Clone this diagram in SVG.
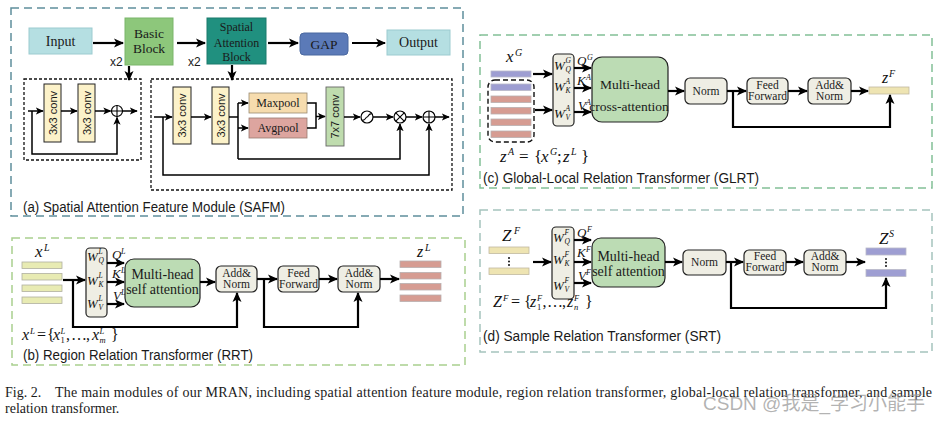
<svg xmlns="http://www.w3.org/2000/svg" width="941" height="423" viewBox="0 0 941 423">
<defs>
<marker id="ah" viewBox="0 0 10 10" refX="9" refY="5" markerWidth="10" markerHeight="10" markerUnits="userSpaceOnUse" orient="auto"><path d="M0,0.5 L10,5 L0,9.5 L2.5,5 z" fill="#000"/></marker>
<marker id="ahs" viewBox="0 0 10 10" refX="9" refY="5" markerWidth="8" markerHeight="8" markerUnits="userSpaceOnUse" orient="auto"><path d="M0,0.5 L10,5 L0,9.5 L2.5,5 z" fill="#000"/></marker>
</defs>
<style>
.serif{font-family:"Liberation Serif","Times New Roman",serif;fill:#1a1a1a;}
.sans{font-family:"Liberation Sans",Arial,sans-serif;fill:#1a1a1a;}
.mi{font-family:"Liberation Serif","Times New Roman",serif;font-style:italic;fill:#111;}
.up{font-style:normal;}
.la{fill:none;stroke:#000;stroke-width:2.2;marker-end:url(#ah);}
.ln{fill:none;stroke:#000;stroke-width:2.2;}
.sa{fill:none;stroke:#000;stroke-width:1.5;marker-end:url(#ahs);}
.sl{fill:none;stroke:#000;stroke-width:1.5;}
.tb{fill:#efeee4;stroke:#222;stroke-width:1.2;}
.att{fill:#bcdcb4;stroke:#222;stroke-width:1.2;}
.conv{fill:#fcf2c9;stroke:#222;stroke-width:1;}
.op{fill:#fff;stroke:#000;stroke-width:1.2;}
.inner{fill:none;stroke:#111;stroke-width:1.3;stroke-dasharray:3,2;}
.frame{fill:none;stroke-width:1.5;stroke-dasharray:8,5;}
.yb{fill:#e8ebb3;stroke:#b0b0a0;stroke-width:0.8;}
.pb{fill:#d69c92;stroke:#b8b0b0;stroke-width:0.8;}
.vb{fill:#9e9ed2;stroke:#b8b8c8;stroke-width:0.8;}
.fb{fill:#eee4b2;stroke:#c0b8a0;stroke-width:0.8;}
</style>

<!-- frames -->
<g id="frame-safm"><rect class="frame" x="11" y="8" width="452" height="208" stroke="#5f8e9c"/>
<text class="sans" x="23" y="212" font-size="14" textLength="262" lengthAdjust="spacingAndGlyphs">(a) Spatial Attention Feature Module (SAFM)</text></g>
<g id="frame-glrt"><rect class="frame" x="480" y="35" width="452" height="153" stroke="#82c097"/>
<text class="sans" x="483" y="183" font-size="14" textLength="276" lengthAdjust="spacingAndGlyphs">(c) Global-Local Relation Transformer (GLRT)</text></g>
<g id="frame-rrt"><rect class="frame" x="12" y="238" width="453" height="127" stroke="#a9d08f"/>
<text class="sans" x="23" y="360" font-size="14" textLength="230" lengthAdjust="spacingAndGlyphs">(b) Region Relation Transformer (RRT)</text></g>
<g id="frame-srt"><rect class="frame" x="480" y="210" width="452" height="142" stroke="#a5c4bd"/>
<text class="sans" x="483" y="341" font-size="14" textLength="238" lengthAdjust="spacingAndGlyphs">(d) Sample Relation Transformer (SRT)</text></g>

<!-- SAFM nodes -->
<g id="input"><rect x="29" y="28" width="63" height="26" fill="#b5dfe2" stroke="#9ccbd0"/><text class="serif" x="60.5" y="46" font-size="14" text-anchor="middle">Input</text></g>
<g id="basic-block"><rect x="125" y="18" width="48" height="47" fill="#8dc77b" stroke="#7ab56a"/><text class="serif" x="149" y="38" font-size="13.5" text-anchor="middle">Basic</text><text class="serif" x="149" y="53" font-size="13.5" text-anchor="middle">Block</text></g>
<text class="sans" x="110" y="66" font-size="12">x2</text>
<g id="spatial-block"><rect x="207" y="18" width="59" height="46" fill="#20907f" stroke="#1a7a6c"/><text class="serif" x="236.5" y="31" font-size="12" text-anchor="middle">Spatial</text><text class="serif" x="236.5" y="47" font-size="12" text-anchor="middle">Attention</text><text class="serif" x="236.5" y="61" font-size="12" text-anchor="middle">Block</text></g>
<text class="sans" x="188" y="66" font-size="12">x2</text>
<g id="gap"><rect x="300" y="33" width="48" height="22" rx="4" fill="#5b7ab8" stroke="#4a68a0"/><text class="serif" x="324" y="49" font-size="13.5" text-anchor="middle">GAP</text></g>
<g id="output"><rect x="387" y="30" width="63" height="25" fill="#b5dfe2" stroke="#9ccbd0"/><text class="serif" x="418.5" y="47" font-size="14" text-anchor="middle">Output</text></g>

<g id="basic-detail"><rect class="inner" x="24" y="79" width="117" height="81"/></g>
<g id="conv-a1"><rect class="conv" x="44" y="84" width="17" height="58"/><text class="sans" font-size="11" text-anchor="middle" transform="translate(52.5,113) rotate(-90)" x="0" y="4">3x3 conv</text></g>
<g id="conv-a2"><rect class="conv" x="78" y="84" width="17" height="58"/><text class="sans" font-size="11" text-anchor="middle" transform="translate(86.5,113) rotate(-90)" x="0" y="4">3x3 conv</text></g>
<g id="plus-a"><circle class="op" cx="117" cy="111" r="5.5"/><path d="M111.5,111 H122.5 M117,105.5 V116.5" stroke="#000" stroke-width="1.1"/></g>

<g id="spatial-detail"><rect class="inner" x="151" y="79" width="301" height="111"/></g>
<g id="conv-b1"><rect class="conv" x="173" y="87" width="18" height="57"/><text class="sans" font-size="11" text-anchor="middle" transform="translate(182,115.5) rotate(-90)" x="0" y="4">3x3 conv</text></g>
<g id="conv-b2"><rect class="conv" x="212" y="87" width="17" height="57"/><text class="sans" font-size="11" text-anchor="middle" transform="translate(220.5,115.5) rotate(-90)" x="0" y="4">3x3 conv</text></g>
<g id="maxpool"><rect x="249" y="93" width="58" height="20" fill="#f6dcae" stroke="#9a8a70" stroke-width="0.8"/><text class="serif" x="278" y="107" font-size="12" text-anchor="middle">Maxpool</text></g>
<g id="avgpool"><rect x="249" y="118" width="58" height="20" fill="#dda59f" stroke="#9a7a70" stroke-width="0.8"/><text class="serif" x="278" y="132" font-size="12" text-anchor="middle">Avgpool</text></g>
<g id="conv7"><rect x="326" y="87" width="18" height="59" fill="#bfdcae" stroke="#666" stroke-width="0.9"/><text class="sans" font-size="11" text-anchor="middle" transform="translate(335,116.5) rotate(-90)" x="0" y="4">7x7 conv</text></g>
<g id="sigmoid"><circle class="op" cx="367" cy="117" r="6"/><path d="M362.5,120 C365.5,121 365.5,117 367,117 C368.5,117 368.5,113 371.5,114" fill="none" stroke="#000" stroke-width="1.1"/></g>
<g id="mult"><circle class="op" cx="400" cy="117" r="6"/><path d="M395.8,112.8 L404.2,121.2 M404.2,112.8 L395.8,121.2" stroke="#000" stroke-width="1.1"/></g>
<g id="plus-b"><circle class="op" cx="429" cy="117" r="6"/><path d="M423,117 H435 M429,111 V123" stroke="#000" stroke-width="1.1"/></g>

<!-- GLRT nodes -->
<g id="glrt-xg"><text class="mi" x="506" y="62" font-size="17">x</text><text class="mi" x="515" y="56" font-size="10">G</text><rect class="vb" x="491" y="71" width="40" height="6"/></g>
<g id="glrt-za"><rect x="488" y="80" width="46" height="62" rx="7" fill="none" stroke="#111" stroke-width="1.4" stroke-dasharray="5,3"/>
<rect class="vb" x="491" y="84" width="40" height="6.5"/><rect class="pb" x="491" y="96" width="40" height="6.5"/><rect class="pb" x="491" y="107.5" width="40" height="6.5"/><rect class="pb" x="491" y="119" width="40" height="6.5"/><rect class="pb" x="491" y="131" width="40" height="6.5"/>
<text class="mi" font-size="17"><tspan x="500" y="162">z</tspan><tspan x="508" y="155" font-size="10">A</tspan><tspan class="up" x="519" y="162">=</tspan><tspan class="up" x="534" y="162">{</tspan><tspan x="541" y="162">x</tspan><tspan x="550" y="155" font-size="10">G</tspan><tspan class="up" x="557" y="162">;</tspan><tspan x="563" y="162">z</tspan><tspan x="571" y="155" font-size="10">L</tspan><tspan class="up" x="581" y="162">}</tspan></text></g>
<g id="glrt-w"><rect class="tb" x="553" y="54" width="21" height="72" rx="4"/>
<text class="mi" font-size="13"><tspan x="554" y="70">W</tspan><tspan x="565.5" y="63" font-size="7.5">G</tspan><tspan x="565.5" y="72" font-size="7.5">Q</tspan></text>
<text class="mi" font-size="13"><tspan x="554" y="91">W</tspan><tspan x="565.5" y="84" font-size="7.5">A</tspan><tspan x="565.5" y="93" font-size="7.5">K</tspan></text>
<text class="mi" font-size="13"><tspan x="554" y="118">W</tspan><tspan x="565.5" y="111" font-size="7.5">A</tspan><tspan x="565.5" y="120" font-size="7.5">V</tspan></text></g>
<g id="glrt-qkv"><text class="mi" font-size="13"><tspan x="577" y="65">Q</tspan><tspan x="587" y="60" font-size="8">G</tspan></text>
<text class="mi" font-size="13"><tspan x="577" y="85">K</tspan><tspan x="586" y="80" font-size="8">A</tspan></text>
<text class="mi" font-size="13"><tspan x="578" y="110">V</tspan><tspan x="586" y="105" font-size="8">A</tspan></text></g>
<g id="glrt-mha"><rect class="att" x="592" y="57" width="76" height="65" rx="10"/><text class="serif" x="630" y="89" font-size="13.5" text-anchor="middle">Multi-head</text><text class="serif" x="629" y="111" font-size="13.5" text-anchor="middle">cross-attention</text></g>
<g id="glrt-norm"><rect class="tb" x="685" y="78" width="42" height="26" rx="5"/><text class="serif" x="706" y="95" font-size="11.5" text-anchor="middle">Norm</text></g>
<g id="glrt-ff"><rect class="tb" x="747" y="78" width="41" height="26" rx="5"/><text class="serif" x="767.5" y="89" font-size="11.5" text-anchor="middle">Feed</text><text class="serif" x="767.5" y="100" font-size="11.5" text-anchor="middle">Forward</text></g>
<g id="glrt-addnorm"><rect class="tb" x="808" y="78" width="43" height="26" rx="5"/><text class="serif" x="829.5" y="89" font-size="11.5" text-anchor="middle">Add&amp;</text><text class="serif" x="829.5" y="100" font-size="11.5" text-anchor="middle">Norm</text></g>
<g id="glrt-zf"><text class="mi" x="882" y="83" font-size="16">z</text><text class="mi" x="889" y="77" font-size="10">F</text><rect class="fb" x="869" y="87" width="40" height="7"/></g>

<!-- RRT nodes -->
<g id="rrt-xl"><text class="mi" x="35" y="257" font-size="17">x</text><text class="mi" x="44" y="251" font-size="10">L</text>
<rect class="yb" x="22" y="262" width="40" height="6.5"/><rect class="yb" x="22" y="273.5" width="40" height="6.5"/><rect class="yb" x="22" y="285" width="40" height="6.5"/><rect class="yb" x="22" y="297" width="40" height="6.5"/>
<text class="mi" font-size="16"><tspan x="22" y="340">x</tspan><tspan x="30" y="334" font-size="9">L</tspan><tspan class="up" x="37" y="340">=</tspan><tspan class="up" x="47" y="340">{</tspan><tspan x="53" y="340">x</tspan><tspan x="60.5" y="334" font-size="8.5">L</tspan><tspan class="up" x="60.5" y="343" font-size="8.5">1</tspan><tspan class="up" x="66" y="340">,</tspan><tspan class="up" x="71" y="340">…</tspan><tspan class="up" x="86" y="340">,</tspan><tspan x="92" y="340">x</tspan><tspan x="99.5" y="334" font-size="8.5">L</tspan><tspan x="99.5" y="343" font-size="8.5">m</tspan><tspan class="up" x="111" y="340">}</tspan></text></g>
<g id="rrt-w"><rect class="tb" x="86" y="248" width="21" height="69" rx="4"/>
<text class="mi" font-size="13"><tspan x="87" y="261">W</tspan><tspan x="98.5" y="254" font-size="7.5">L</tspan><tspan x="98.5" y="263" font-size="7.5">Q</tspan></text>
<text class="mi" font-size="13"><tspan x="87" y="285">W</tspan><tspan x="98.5" y="278" font-size="7.5">L</tspan><tspan x="98.5" y="287" font-size="7.5">K</tspan></text>
<text class="mi" font-size="13"><tspan x="87" y="308">W</tspan><tspan x="98.5" y="301" font-size="7.5">L</tspan><tspan x="98.5" y="310" font-size="7.5">V</tspan></text></g>
<g id="rrt-qkv"><text class="mi" font-size="13"><tspan x="112" y="259">Q</tspan><tspan x="121" y="254" font-size="8">L</tspan></text>
<text class="mi" font-size="13"><tspan x="112" y="278">K</tspan><tspan x="121" y="273" font-size="8">L</tspan></text>
<text class="mi" font-size="13"><tspan x="113" y="300">V</tspan><tspan x="121" y="295" font-size="8">L</tspan></text></g>
<g id="rrt-mha"><rect class="att" x="125" y="259" width="75" height="48" rx="9"/><text class="serif" x="162.5" y="279" font-size="14" text-anchor="middle">Multi-head</text><text class="serif" x="162.5" y="294" font-size="14" text-anchor="middle">self attention</text></g>
<g id="rrt-addnorm1"><rect class="tb" x="216" y="266" width="41" height="26" rx="5"/><text class="serif" x="236.5" y="277" font-size="11.5" text-anchor="middle">Add&amp;</text><text class="serif" x="236.5" y="288" font-size="11.5" text-anchor="middle">Norm</text></g>
<g id="rrt-ff"><rect class="tb" x="278" y="266" width="41" height="26" rx="5"/><text class="serif" x="298.5" y="277" font-size="11.5" text-anchor="middle">Feed</text><text class="serif" x="298.5" y="288" font-size="11.5" text-anchor="middle">Forward</text></g>
<g id="rrt-addnorm2"><rect class="tb" x="338" y="266" width="42" height="26" rx="5"/><text class="serif" x="359" y="277" font-size="11.5" text-anchor="middle">Add&amp;</text><text class="serif" x="359" y="288" font-size="11.5" text-anchor="middle">Norm</text></g>
<g id="rrt-zl"><text class="mi" x="417" y="257" font-size="16">z</text><text class="mi" x="425" y="251" font-size="10">L</text>
<rect class="pb" x="400" y="261" width="41" height="6.5"/><rect class="pb" x="400" y="272.5" width="41" height="6.5"/><rect class="pb" x="400" y="283.5" width="41" height="6.5"/><rect class="pb" x="400" y="295" width="41" height="6.5"/></g>

<!-- SRT nodes -->
<g id="srt-zf"><text class="mi" x="502" y="241" font-size="17">Z</text><text class="mi" x="514" y="234" font-size="10">F</text>
<rect class="fb" x="489" y="247" width="40" height="6.5"/><rect class="fb" x="489" y="268" width="40" height="6.5"/>
<circle cx="509" cy="258" r="1" fill="#111"/><circle cx="509" cy="261.5" r="1" fill="#111"/><circle cx="509" cy="265" r="1" fill="#111"/>
<text class="mi" font-size="16"><tspan x="493" y="307">Z</tspan><tspan x="503" y="301" font-size="9">F</tspan><tspan class="up" x="511" y="307">=</tspan><tspan class="up" x="524" y="307">{</tspan><tspan x="530" y="307">z</tspan><tspan x="537" y="301" font-size="8.5">F</tspan><tspan class="up" x="537" y="310" font-size="8.5">1</tspan><tspan class="up" x="542.5" y="307">,</tspan><tspan class="up" x="547" y="307">…</tspan><tspan class="up" x="562" y="307">,</tspan><tspan x="567" y="307">z</tspan><tspan x="574" y="301" font-size="8.5">F</tspan><tspan x="574" y="310" font-size="8.5">n</tspan><tspan class="up" x="585" y="307">}</tspan></text></g>
<g id="srt-w"><rect class="tb" x="552" y="227" width="22" height="72" rx="4"/>
<text class="mi" font-size="13"><tspan x="553" y="242">W</tspan><tspan x="564.5" y="235" font-size="7.5">F</tspan><tspan x="564.5" y="244" font-size="7.5">Q</tspan></text>
<text class="mi" font-size="13"><tspan x="553" y="264">W</tspan><tspan x="564.5" y="257" font-size="7.5">F</tspan><tspan x="564.5" y="266" font-size="7.5">K</tspan></text>
<text class="mi" font-size="13"><tspan x="553" y="290">W</tspan><tspan x="564.5" y="283" font-size="7.5">F</tspan><tspan x="564.5" y="292" font-size="7.5">V</tspan></text></g>
<g id="srt-qkv"><text class="mi" font-size="13"><tspan x="577" y="237">Q</tspan><tspan x="587" y="232" font-size="8">F</tspan></text>
<text class="mi" font-size="13"><tspan x="577" y="257">K</tspan><tspan x="586" y="252" font-size="8">F</tspan></text>
<text class="mi" font-size="13"><tspan x="578" y="280">V</tspan><tspan x="586" y="275" font-size="8">F</tspan></text></g>
<g id="srt-mha"><rect class="att" x="592" y="238" width="73" height="49" rx="9"/><text class="serif" x="628.5" y="261" font-size="14" text-anchor="middle">Multi-head</text><text class="serif" x="628.5" y="276" font-size="14" text-anchor="middle">self attention</text></g>
<g id="srt-norm"><rect class="tb" x="683" y="250" width="43" height="25" rx="5"/><text class="serif" x="704.5" y="266" font-size="11.5" text-anchor="middle">Norm</text></g>
<g id="srt-ff"><rect class="tb" x="744" y="250" width="42" height="25" rx="5"/><text class="serif" x="765" y="260" font-size="11.5" text-anchor="middle">Feed</text><text class="serif" x="765" y="271" font-size="11.5" text-anchor="middle">Forward</text></g>
<g id="srt-addnorm"><rect class="tb" x="804" y="250" width="42" height="25" rx="5"/><text class="serif" x="825" y="260" font-size="11.5" text-anchor="middle">Add&amp;</text><text class="serif" x="825" y="271" font-size="11.5" text-anchor="middle">Norm</text></g>
<g id="srt-zs"><text class="mi" x="879" y="244" font-size="17">Z</text><text class="mi" x="889" y="237" font-size="10">S</text>
<rect class="vb" x="866" y="248" width="40" height="7"/><rect class="vb" x="866" y="269.5" width="40" height="7"/>
<circle cx="886" cy="259" r="1" fill="#111"/><circle cx="886" cy="262.5" r="1" fill="#111"/><circle cx="886" cy="266" r="1" fill="#111"/></g>

<!-- connectors -->
<g id="connectors">
<path class="la" d="M93,43 H123"/>
<path class="la" d="M177,43 H205"/>
<path class="la" d="M268,43 H298"/>
<path class="la" d="M352,43 H385"/>
<path class="la" d="M129,66 V80"/>
<path class="la" d="M232,65 V80"/>
<path class="sa" d="M28,111 H43"/>
<path class="sa" d="M61,111 H77"/>
<path class="sa" d="M95,111 H110.5"/>
<path class="sa" d="M122.5,111 H137"/>
<path class="sa" d="M32,111 V154 H117 V117.5"/>
<path class="sa" d="M154,117 H172"/>
<path class="sa" d="M191,117 H211"/>
<path class="sl" d="M229,117 H238"/>
<path class="sl" d="M238,103 V159"/>
<path class="sa" d="M238,103 H248"/>
<path class="sa" d="M238,128 H248"/>
<path class="sl" d="M307,103 H316 V128 H307"/>
<path class="sa" d="M316,116.5 H325"/>
<path class="sa" d="M238,159 H400 V124"/>
<path class="sa" d="M344,117 H360"/>
<path class="sa" d="M373,117 H393"/>
<path class="sa" d="M406,117 H422"/>
<path class="sa" d="M435,117 H449"/>
<path class="sa" d="M163,117 V175 H429 V124"/>

<path class="la" d="M533,74 H552"/>
<path class="la" d="M535,110 H552"/>
<path class="la" d="M574,68 H591"/>
<path class="la" d="M574,88 H591"/>
<path class="la" d="M574,112 H591"/>
<path class="la" d="M668,91 H684"/>
<path class="la" d="M727,91 H746"/>
<path class="la" d="M788,91 H807"/>
<path class="la" d="M851,91 H868"/>
<path class="la" d="M733,91 V127 H890 V95"/>

<path class="la" d="M63,280 H85"/>
<path class="la" d="M73,280 V327 H237 V293"/>
<path class="la" d="M107,263 H124"/>
<path class="la" d="M107,282 H124"/>
<path class="la" d="M107,304 H124"/>
<path class="la" d="M200,282 H215"/>
<path class="la" d="M257,279 H277"/>
<path class="la" d="M264,279 V327 H358 V293"/>
<path class="la" d="M319,279 H337"/>
<path class="la" d="M380,279 H399"/>

<path class="la" d="M533,262 H551"/>
<path class="la" d="M574,240 H591"/>
<path class="la" d="M574,262 H591"/>
<path class="la" d="M574,283 H591"/>
<path class="la" d="M665,262 H682"/>
<path class="la" d="M726,262 H743"/>
<path class="la" d="M786,262 H803"/>
<path class="la" d="M846,262 H865"/>
<path class="la" d="M731,262 V308 H886 V278"/>
</g>

<!-- figure caption -->
<g id="caption">
<text class="serif" x="5" y="397" font-size="14">Fig. 2.</text>
<text class="serif" x="55" y="397" font-size="14" textLength="877" lengthAdjust="spacing">The main modules of our MRAN, including spatial attention feature module, region relation transformer, global-local relation transformer, and sample</text>
<text class="serif" x="5" y="413" font-size="14">relation transformer.</text>
</g>
<text x="703" y="410" font-size="19" font-family="'Liberation Sans','Noto Sans CJK SC',sans-serif" fill="#9a9a9a" fill-opacity="0.75" textLength="222" lengthAdjust="spacingAndGlyphs">CSDN @我是_学习小能手</text>
</svg>
